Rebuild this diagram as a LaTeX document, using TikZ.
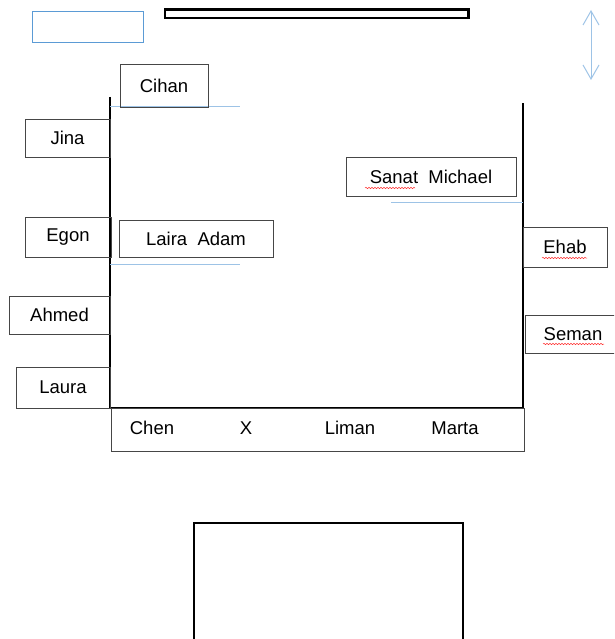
\documentclass[tikz,border=0pt]{standalone}
\usepackage{fontspec}
\setmainfont{Liberation Sans}
\usetikzlibrary{arrows.meta,decorations.pathmorphing}

\definecolor{boxgrey}{RGB}{70,70,70}
\definecolor{lineblue}{RGB}{157,195,230}
\definecolor{frameblue}{RGB}{91,155,213}

\tikzset{
  seat/.style={draw=boxgrey, line width=0.9pt, inner sep=0pt, font=\fontsize{18.5}{20}\selectfont},
  wall/.style={line width=2.8pt, black},
  typo/.style={red!80, line width=0.5pt, decorate, decoration={snake, amplitude=0.7pt, segment length=3pt}}
}

\begin{document}
\begin{tikzpicture}[x=1pt, y=-1pt]
\useasboundingbox (0,0) rectangle (614,639);
\clip (0,0) rectangle (614,639);

% Top of the room
\draw[frameblue, line width=0.8pt] (32,11) rectangle (143,42);
\draw[line width=2.2pt] (165,9.5) rectangle (468.5,18);
\draw[lineblue, line width=1pt, {Straight Barb[length=14pt,width=16pt]}-{Straight Barb[length=14pt,width=16pt]}] (591,10) -- (591,80);

% Walls
\draw[wall] (110,97) -- (110,408) -- (523,408) -- (523,103);

% Tables
\draw[lineblue, line width=1pt] (110,107) -- (240,107);
\draw[lineblue, line width=1pt] (110,264) -- (240,264);
\draw[lineblue, line width=1pt] (391,202) -- (523,202);

% Seats, left side
\node[seat, minimum width=88, minimum height=43] (cihan) at (164,85.5) {Cihan};
\node[seat, minimum width=85, minimum height=38] (jina) at (67.5,138) {Jina};
\node[seat, minimum width=86, minimum height=40] (egon) at (68,237) {Egon};
\node[seat, minimum width=154, minimum height=37] (laira) at (196,238.5) {Laira\ \ Adam};
\node[seat, minimum width=101, minimum height=38] (ahmed) at (59.5,315) {Ahmed};
\node[seat, minimum width=94, minimum height=41] (laura) at (63,387.5) {Laura};

% Seats, right side
\node[seat, minimum width=170, minimum height=39] (sanat) at (431,176.5) {Sanat\ \ Michael};
\node[seat, minimum width=84, minimum height=40] (ehab) at (565,247) {Ehab};
\node[seat, minimum width=110, minimum height=38] (seman) at (580,334) {Seman\hspace*{14pt}};

% Front row
\draw[boxgrey, line width=0.9pt] (111,408) rectangle (524,451);
\node[seat, draw=none] (chen) at (152,428) {Chen};
\node[seat, draw=none] (xseat) at (246,428) {X};
\node[seat, draw=none] (liman) at (350,428) {Liman};
\node[seat, draw=none] (marta) at (455,428) {Marta};

% Spelling marks
\draw[typo] (365,188) -- (415,188);
\draw[typo] (542,258) -- (587,258);
\draw[typo] (543,344) -- (604,344);

% Desk
\draw[line width=2.2pt] (194,523) rectangle (463,645);
\end{tikzpicture}
\end{document}
